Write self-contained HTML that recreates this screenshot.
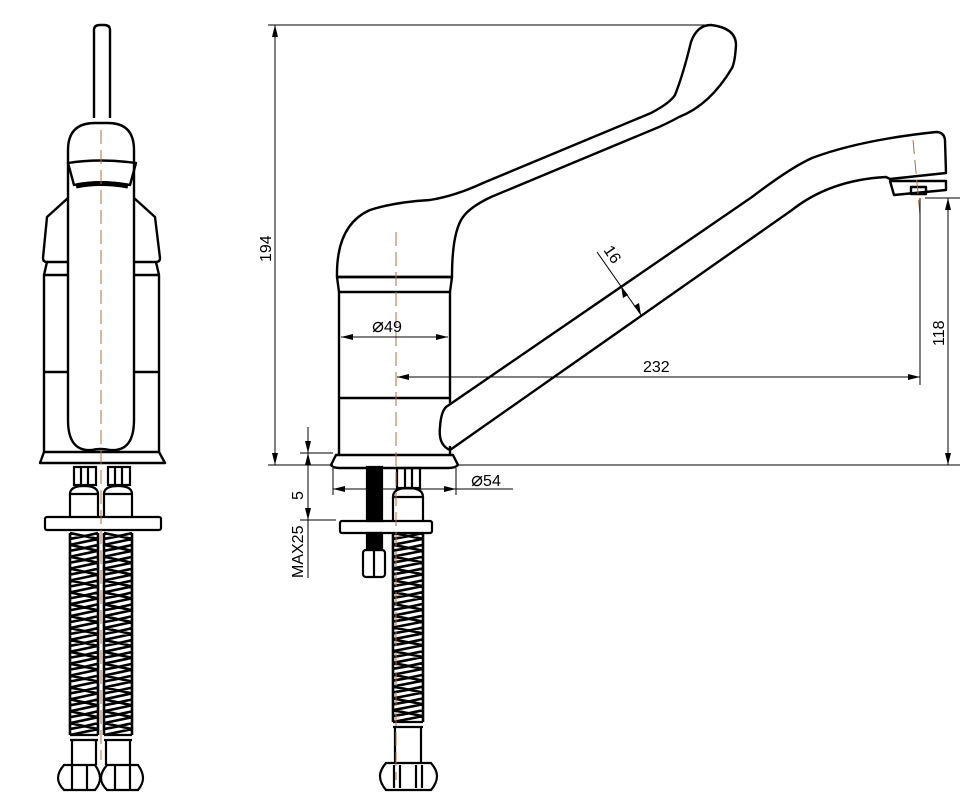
<!DOCTYPE html>
<html><head><meta charset="utf-8"><style>
html,body{margin:0;padding:0;background:#fff;}
svg{display:block;}
text{font-family:"Liberation Sans",sans-serif;font-size:16px;fill:#000;}
</style></head><body>
<svg id="s" width="976" height="799" viewBox="0 0 976 799" xmlns="http://www.w3.org/2000/svg">
<g fill="none" stroke="#000" stroke-width="2.4" stroke-linejoin="round">
<!-- LEFT VIEW -->
<path d="M94,118 V30 Q94,25 100,25 H104 Q110,25 110,30 V118"/>
<path d="M68,420 V150 Q68,123 95,123 H108 Q134,123 134,150 V420 Q134,452 110,450 Q100,448 92,450 Q68,452 68,420Z"/>
<path d="M68,163 Q100,158 136,163 L130,185 Q100,180 74,185Z"/>
<path d="M76,186 Q100,181 128,186" stroke-width="5"/>
<path d="M68,198 L47,217 L43,258 Q43,262 47,262 H68"/>
<path d="M134,198 L155,217 L160,258 Q160,262 156,262 H134"/>
<path d="M47,262 L44,275 V452 M156,262 L159,275 V452 M44,275 H68 M134,275 H159 M44,372 H68 M134,372 H159"/>
<path d="M44,452 H159 L165,463 H40 Z"/>
<!-- right view body -->
<path d="M337,277 Q336,225 370,210 Q395,202 430,200 Q455,196 483,183 L651,113 Q670,103 675,95 Q683,75 691,42 Q697,25 711,25 Q736,28 736,45 Q735,62 732,68 Q710,105 679,117 Q670,122 659,127 L491,197 Q470,207 463,217 Q452,232 452,277 Z"/>
<path d="M337,277 H452 L450,292 H339 Z"/>
<path d="M339,292 V455 M450,292 V403 M450,446 V455 M339,398 H450"/>
<path d="M336,455 H453 L458,465 Q455,468 448,468 H340 Q333,468 331,465 Z"/>
<!-- spout -->
<path d="M446,407 L752,197 Q790,168 812,158 Q860,140 936,132 Q944,132 945,140 L946,173 L890,179 L886,177 Q830,180 792,210 L450,450 Q438,445 440,427 Q441,412 446,407 Z"/>
<path d="M890,181 H946 V190 L894,195 Z"/>
<rect x="911" y="187" width="15" height="7"/>
</g>
<g id="springs" fill="none" stroke="#000" stroke-width="2.6"></g>
<g fill="none" stroke="#000" stroke-width="2.2">
<!-- right view connectors -->
<rect x="397" y="468" width="23" height="20"/><path d="M405,468 V488 M412,468 V488"/>
<path d="M393,497 Q393,488 408,488 Q423,488 423,497 Z"/>
<path d="M393,497 V521 M423,497 V521"/>
<rect x="340" y="521" width="92" height="12" rx="2"/>
<rect x="367" y="467" width="15" height="54" fill="#000"/>
<rect x="367" y="533" width="15" height="17" fill="#000"/>
<rect x="363" y="550" width="22" height="27" rx="3"/><path d="M374,550 V577"/>
<path d="M393,722 H423 M395,727 V763 M421,727 V763 M393,727 H423"/>
<path d="M386,763 H431 Q437,770 437,776 Q437,783 431,790 H386 Q380,783 380,776 Q380,770 386,763Z M394,765 V788 M422,765 V788 M400,765 V788 M416,765 V788"/>
<!-- left view connectors -->
<rect x="74" y="467" width="22" height="18"/><path d="M81,467 V485 M88,467 V485"/>
<rect x="108" y="467" width="22" height="18"/><path d="M115,467 V485 M122,467 V485"/>
<path d="M70,494 Q70,486 84,486 Q98,486 98,494 Z M104,494 Q104,486 118,486 Q132,486 132,494 Z"/>
<path d="M70,494 V517 M98,494 V517 M104,494 V517 M132,494 V517"/>
<rect x="45" y="517" width="116" height="13" rx="2"/>
<path d="M70,735 H98 M104,735 H132 M72,740 V765 M96,740 V765 M106,740 V765 M130,740 V765 M70,740 H98 M104,740 H132"/>
<path d="M64,765 H95 Q100,772 100,778 Q100,784 95,790 H64 Q58,784 58,778 Q58,772 64,765Z M72,765 V790 M87,765 V790"/>
<path d="M107,765 H138 Q143,772 143,778 Q143,784 138,790 H107 Q101,784 101,778 Q101,772 107,765Z M115,765 V790 M130,765 V790"/>
</g>
<!-- centerlines -->
<g stroke="#b07040" stroke-width="1" stroke-dasharray="14,6" fill="none">
<path d="M101,130 V760"/><path d="M396,232 V780"/><path d="M913,140 L920,215"/>
</g>
<!-- dimensions -->
<g stroke="#000" stroke-width="1" fill="none">
<path d="M268,25 H715 M268,465 H333 M458,465 H960 M275,25 V465"/>
<path d="M925,198 H960 M948,198 V465 M920,198 V385"/>
<path d="M341,337 H448 M397,377 H920"/>
<path d="M300,453 H333 M300,520 H336 M308,427 V578 M333,468 V495 M456,468 V495 M333,489 H513"/>
<path d="M597,252 L641,315"/>
</g>
<g fill="#000" stroke="none">
<path d="M275,25 l-3,12 h6z M275,465 l-3,-12 h6z"/>
<path d="M948,198 l-3,12 h6z M948,465 l-3,-12 h6z"/>
<path d="M341,337 l12,-3 v6z M448,337 l-12,-3 v6z"/>
<path d="M397,377 l12,-3 v6z M920,377 l-12,-3 v6z"/>
<path d="M308,453 l-3,-12 h6z M308,453 l-3,12 h6z M308,520 l-3,-12 h6z"/>
<path d="M333,489 l12,-3 v6z M456,489 l-12,-3 v6z"/>
<path d="M621,286 l2,12 l5,-3z M641,315 l-2,-12 l-5,3z"/>
</g>
<text x="372" y="332"><tspan font-size="20">⌀</tspan>49</text>
<text x="643" y="372">232</text>
<text x="471" y="486"><tspan font-size="20">⌀</tspan>54</text>
<text transform="translate(271,262) rotate(-90)">194</text>
<text transform="translate(944,346) rotate(-90)">118</text>
<text transform="translate(303,500) rotate(-90)">5</text>
<text transform="translate(303,578) rotate(-90)">MAX25</text>
<text transform="translate(603,250) rotate(56)">16</text>
</svg>
<script>
(function(){
var g=document.getElementById('springs'),d='';
function spring(x1,x2,y1,y2){
 var n=Math.round((y2-y1)/12);var h=(y2-y1)/n;
 d+='M'+x1+','+y1+' V'+y2+' M'+x2+','+y1+' V'+y2+' ';
 for(var i=0;i<n;i++){var y=y1+i*h;
  d+='M'+x1+','+y+' L'+x2+','+(y+h/2)+' L'+x1+','+(y+h)+' ';
  d+='M'+x2+','+y+' Q'+((x1+x2)/2)+','+(y+h*0.3)+' '+x1+','+(y+h/2)+' ';
 }
}
spring(70,98,533,735);spring(104,132,533,735);spring(393,423,533,722);
var p=document.createElementNS('http://www.w3.org/2000/svg','path');
p.setAttribute('d',d);g.appendChild(p);
})();
</script>
</body></html>
